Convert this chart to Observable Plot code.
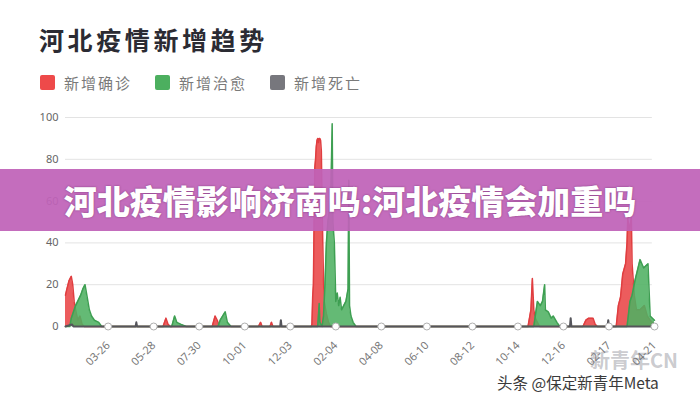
<!DOCTYPE html>
<html>
<head>
<meta charset="utf-8">
<script src="https://cdn.jsdelivr.net/npm/d3@7"></script>
<script src="https://cdn.jsdelivr.net/npm/@observablehq/plot@0.6"></script>
<style>
  html, body { margin: 0; padding: 0; background: #fff; }
  #wrap { position: relative; width: 700px; height: 400px; overflow: hidden; font-family: "Noto Sans CJK SC", "Noto Sans", sans-serif; }
  #title { position: absolute; left: 39px; top: 21px; font-size: 25px; letter-spacing: 3.6px; font-weight: bold; color: #2b2b33; }
  .leg { position: absolute; top: 72px; display: flex; align-items: center; font-size: 15px; letter-spacing: 2px; color: #7a7a7a; }
  .sw { width: 15px; height: 15px; border-radius: 2px; margin-right: 9px; }
  #chart { position: absolute; left: 0; top: 90px; }
  #banner { position: absolute; left: 0; top: 169px; width: 700px; height: 62px; background: rgba(192,98,184,0.93); }
  #bannerText { position: absolute; left: 0; top: 169px; width: 700px; height: 62px; line-height: 62px; text-align: center; color: #fff; font-weight: 900; font-size: 33px; text-shadow: 0 0 2px rgba(60,0,60,0.5); }
  #wm1 { position: absolute; left: 590px; top: 349px; font-size: 20px; line-height: 22px; color: rgba(120,120,130,0.4); font-weight: bold; }
  #wm2 { position: absolute; left: 497px; top: 373px; font-size: 15.5px; line-height: 18px; color: #3a3a3a; text-shadow: 0 0 2px #fff, 0 0 2px #fff; }
</style>
</head>
<body>
<div id="wrap">
  <div id="title">河北疫情新增趋势</div>
  <div class="leg" style="left:40px"><div class="sw" style="background:#ee4a4a"></div>新增确诊</div>
  <div class="leg" style="left:155px"><div class="sw" style="background:#4caf5f"></div>新增治愈</div>
  <div class="leg" style="left:270px"><div class="sw" style="background:#77777d"></div>新增死亡</div>
  <div id="chart"></div>
  <div id="banner"></div>
  <div id="bannerText">河北疫情影响济南吗:河北疫情会加重吗</div>
  <div id="wm1">新青年CN</div>
  <div id="wm2">头条 @保定新青年Meta</div>
</div>
<script>
// ---- data ----
const confirmedDates = ["2020-01-27","2020-01-29","2020-02-01","2020-02-04","2020-02-06","2020-02-08","2020-02-10","2020-02-13","2020-02-16","2020-02-19","2020-02-22",
  "2020-06-10","2020-06-14","2020-06-17","2020-06-20",
  "2020-08-17","2020-08-21","2020-08-24","2020-08-27",
  "2020-10-20","2020-10-23","2020-10-25","2020-11-05","2020-11-07","2020-11-09",
  "2021-01-01","2021-01-02","2021-01-03","2021-01-04","2021-01-05","2021-01-06","2021-01-07","2021-01-08","2021-01-09","2021-01-10","2021-01-11","2021-01-12","2021-01-13","2021-01-14","2021-01-15","2021-01-16","2021-01-17","2021-01-18","2021-01-19","2021-01-20","2021-01-22","2021-01-25","2021-01-28",
  "2021-10-28","2021-11-01","2021-11-03","2021-11-05","2021-11-07","2021-11-10","2021-11-13",
  "2022-01-12","2022-01-16","2022-01-20","2022-01-26","2022-01-29","2022-02-01",
  "2022-02-27","2022-03-02","2022-03-05","2022-03-08","2022-03-12","2022-03-14","2022-03-15","2022-03-17","2022-03-20","2022-03-21","2022-03-24","2022-03-27","2022-04-01","2022-04-07","2022-04-11","2022-04-15","2022-04-21"];
const confirmedValues = [15,18,22,24,20,12,8,3,5,1,0,
  0,4,1,0,
  0,5,3,0,
  0,2,0,0,2,0,
  0,1,14,20,50,76,80,86,89,90,88,90,90,89,84,60,40,22,12,10,6,2,0,
  0,8,23,8,4,2,0,
  0,3,4,4,1,0,
  0,10,14,25,30,40,52,46,52,30,15,8,8,10,5,3,1];

const curedDates = ["2020-01-27","2020-02-02","2020-02-04","2020-02-10","2020-02-17","2020-02-20","2020-02-23","2020-02-26","2020-02-29","2020-03-03","2020-03-07","2020-03-13","2020-03-17",
  "2020-06-22","2020-06-26","2020-06-29","2020-07-05","2020-07-12",
  "2020-08-25","2020-08-28","2020-09-04","2020-09-07","2020-09-12",
  "2021-01-10","2021-01-12","2021-01-13","2021-01-16","2021-01-18","2021-01-20","2021-01-22","2021-01-24","2021-01-26","2021-01-28","2021-01-30","2021-01-31","2021-02-02","2021-02-04","2021-02-06","2021-02-08","2021-02-10","2021-02-12","2021-02-15","2021-02-18","2021-02-21","2021-02-22","2021-02-23","2021-02-25","2021-02-28","2021-03-04",
  "2021-11-05","2021-11-07","2021-11-10","2021-11-14","2021-11-17","2021-11-20","2021-11-21","2021-11-25","2021-11-29","2021-12-02","2021-12-07","2021-12-11",
  "2022-03-14","2022-03-18","2022-03-21","2022-03-25","2022-04-01","2022-04-06","2022-04-12","2022-04-15","2022-04-21"];
const curedValues = [0,0,4,10,15,18,20,14,8,5,3,2,0,
  0,5,2,1,0,
  0,3,7,2,0,
  0,11,2,0,5,20,40,50,55,60,97,50,40,12,16,10,14,8,10,12,18,70,10,5,2,0,
  0,5,12,10,12,20,8,7,4,5,2,0,
  0,12,15,22,32,28,30,5,3];

const deathDates = ["2020-01-27","2020-02-05","2020-02-07","2020-05-03","2020-05-04","2020-05-05","2020-11-19","2020-11-20","2020-11-21","2021-12-25","2021-12-26","2021-12-27","2022-02-15","2022-02-16","2022-02-17","2022-04-21"];
const deathValues = [0,1,0,0,2,0,0,3,0,0,4,0,0,3,0,0];

const tickDates = ["2020-03-26","2020-05-28","2020-07-30","2020-10-01","2020-12-03","2021-02-04","2021-04-08","2021-06-10","2021-08-12","2021-10-14","2021-12-16","2022-02-17","2022-04-21"];
const yTicks = [0,20,40,60,80,100];

const parse = d3.utcParse("%Y-%m-%d");
const toRows = (ds, vs) => ds.map((d, i) => ({date: parse(d), value: vs[i]}));
const confirmed = toRows(confirmedDates, confirmedValues);
const cured = toRows(curedDates, curedValues);
const deaths = toRows(deathDates, deathValues);
const ticks = tickDates.map(parse);

const chart = Plot.plot({
  width: 700,
  height: 310,
  marginLeft: 65,
  marginRight: 46,
  marginTop: 27,
  marginBottom: 74,
  style: {fontFamily: "Noto Sans, sans-serif", background: "transparent"},
  x: {type: "utc", domain: [parse("2020-01-27"), parse("2022-04-21")]},
  y: {domain: [0, 100]},
  marks: [
    Plot.gridY(yTicks, {stroke: "#e3e3e3", strokeOpacity: 1, x1: parse("2020-01-27"), x2: parse("2022-04-18")}),
    Plot.axisY({ticks: yTicks, tickSize: 0, tickPadding: 7, fontSize: 11, fill: "#666", label: null}),
    Plot.axisX({ticks: ticks, tickFormat: d3.utcFormat("%m-%d"), tickRotate: -45, tickSize: 0, tickPadding: 17, fontSize: 11, fill: "#777", label: null}),
    Plot.areaY(confirmed, {x: "date", y: "value", fill: "#ea4a4b", fillOpacity: 0.9}),
    Plot.lineY(confirmed, {x: "date", y: "value", stroke: "#e03e40", strokeWidth: 1.5}),
    Plot.areaY(cured, {x: "date", y: "value", fill: "#4fb062", fillOpacity: 0.88}),
    Plot.lineY(cured, {x: "date", y: "value", stroke: "#3e9f52", strokeWidth: 1.5}),
    Plot.lineY(deaths, {x: "date", y: "value", stroke: "#55555b", strokeWidth: 2}),
    Plot.dot(ticks, {x: d => d, y: 0, r: 3.5, fill: "#fff", stroke: "#b0b0b0", strokeWidth: 1})
  ]
});
document.getElementById("chart").appendChild(chart);
</script>
</body>
</html>
